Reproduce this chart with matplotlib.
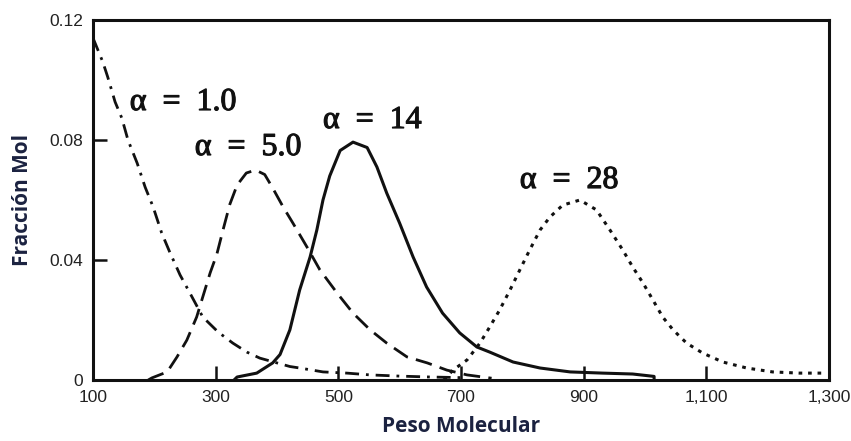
import matplotlib.pyplot as plt
import matplotlib.patheffects as pe
from matplotlib.ticker import FixedLocator, FixedFormatter

# alpha = 1.0 (dash-dot)
x_a1 = [100, 116, 124, 136, 147, 157, 172, 185, 198, 212, 225, 242, 258, 279, 304, 328,
        351, 372, 400, 421, 437, 475, 514, 552, 600, 650, 700]
y_a1 = [0.1140, 0.106, 0.101, 0.0927, 0.0873, 0.080, 0.0723, 0.0643, 0.0577, 0.049, 0.0427,
        0.035, 0.029, 0.021, 0.016, 0.0123, 0.0093, 0.0073, 0.0057, 0.0045, 0.004, 0.0027,
        0.0023, 0.0017, 0.0013, 0.001, 0.0008]

# alpha = 5.0 (dashed)
x_a5 = [190, 196, 221, 237, 253, 269, 279, 291, 302, 312, 323, 335, 350, 365, 380, 393,
        410, 426, 449, 470, 498, 524, 552, 579, 612, 645, 677, 710, 750]
y_a5 = [0.0, 0.0007, 0.0027, 0.0077, 0.0133, 0.021, 0.0277, 0.0357, 0.042, 0.050, 0.0585,
        0.065, 0.069, 0.070, 0.0685, 0.064, 0.0577, 0.0523, 0.0443, 0.0367, 0.029,
        0.0223, 0.0167, 0.0123, 0.0077, 0.0057, 0.0033, 0.0017, 0.0006]

# alpha = 14 (solid)
x_a14 = [330, 335, 367, 393, 405, 421, 437, 454, 465, 475, 486, 503, 524, 547, 563, 579,
         600, 622, 644, 670, 698, 726, 747, 785, 829, 878, 931, 980, 1015, 1015]
y_a14 = [0.0, 0.001, 0.0023, 0.0057, 0.0085, 0.0167, 0.030, 0.041, 0.050, 0.060, 0.068,
         0.0765, 0.0793, 0.0775, 0.071, 0.0623, 0.0523, 0.041, 0.031, 0.0223, 0.0157,
         0.011, 0.0093, 0.006, 0.004, 0.0027, 0.0023, 0.0020, 0.0012, 0.0]

# alpha = 28 (dotted)
x_a28 = [672, 687, 710, 731, 747, 763, 780, 796, 812, 829, 845, 866, 894, 921, 943, 964,
         980, 997, 1013, 1029, 1046, 1068, 1094, 1127, 1166, 1208, 1252, 1296]
y_a28 = [0.0, 0.0033, 0.0067, 0.0123, 0.0177, 0.0233, 0.030, 0.0367, 0.0433, 0.050, 0.0543,
         0.0583, 0.060, 0.0567, 0.050, 0.0433, 0.0377, 0.0323, 0.0267, 0.021, 0.0167,
         0.0123, 0.009, 0.006, 0.004, 0.0027, 0.0023, 0.0023]

labels = ['α  =  1.0', 'α  =  5.0', 'α  =  14', 'α  =  28']
label_x = [160, 266, 475, 796]
label_y = [0.0925, 0.0775, 0.0865, 0.0665]

xticks = [100, 300, 500, 700, 900, 1100, 1300]
xtick_labels = ['100', '300', '500', '700', '900', '1,100', '1,300']
yticks = [0, 0.04, 0.08, 0.12]
ytick_labels = ['0', '0.04', '0.08', '0.12']

fig = plt.figure(figsize=(8.51, 4.41), dpi=100)
ax = fig.add_axes([0.1093, 0.1383, 0.8647, 0.8163])

ax.plot(x_a1, y_a1, color='#111111', lw=2.0, dashes=(5, 2.5, 1, 2.5))
ax.plot(x_a5, y_a5, color='#111111', lw=2.0, dashes=(6, 3))
ax.plot(x_a14, y_a14, color='#111111', lw=2.2, solid_joinstyle='round')
ax.plot(x_a28, y_a28, color='#111111', lw=2.2, dashes=(1.2, 1.9))

for t, x, y in zip(labels, label_x, label_y):
    ax.text(x, y, t, fontsize=23, family='Liberation Serif',
            color='#111111', va='center', ha='left',
            path_effects=[pe.withStroke(linewidth=0.8, foreground='#111111')])

ax.set_xlim(100, 1300)
ax.set_ylim(0, 0.12)
ax.xaxis.set_major_locator(FixedLocator(xticks))
ax.xaxis.set_major_formatter(FixedFormatter(xtick_labels))
ax.yaxis.set_major_locator(FixedLocator(yticks))
ax.yaxis.set_major_formatter(FixedFormatter(ytick_labels))
ax.tick_params(direction='in', length=10, width=1.8, color='#111111',
               labelsize=12.5, labelcolor='#222222', pad=7)
for lab in ax.get_xticklabels() + ax.get_yticklabels():
    lab.set_family('Liberation Sans')

for s in ax.spines.values():
    s.set_linewidth(2.2)
    s.set_color('#111111')

ax.set_xlabel('Peso Molecular', fontsize=15, weight='bold', family='Open Sans',
              color='#1b2240', labelpad=8)
ax.set_ylabel('Fracción Mol', fontsize=15, weight='bold', family='Open Sans',
              color='#1b2240', labelpad=12)

plt.savefig('out.png', dpi=100)
plt.close()
